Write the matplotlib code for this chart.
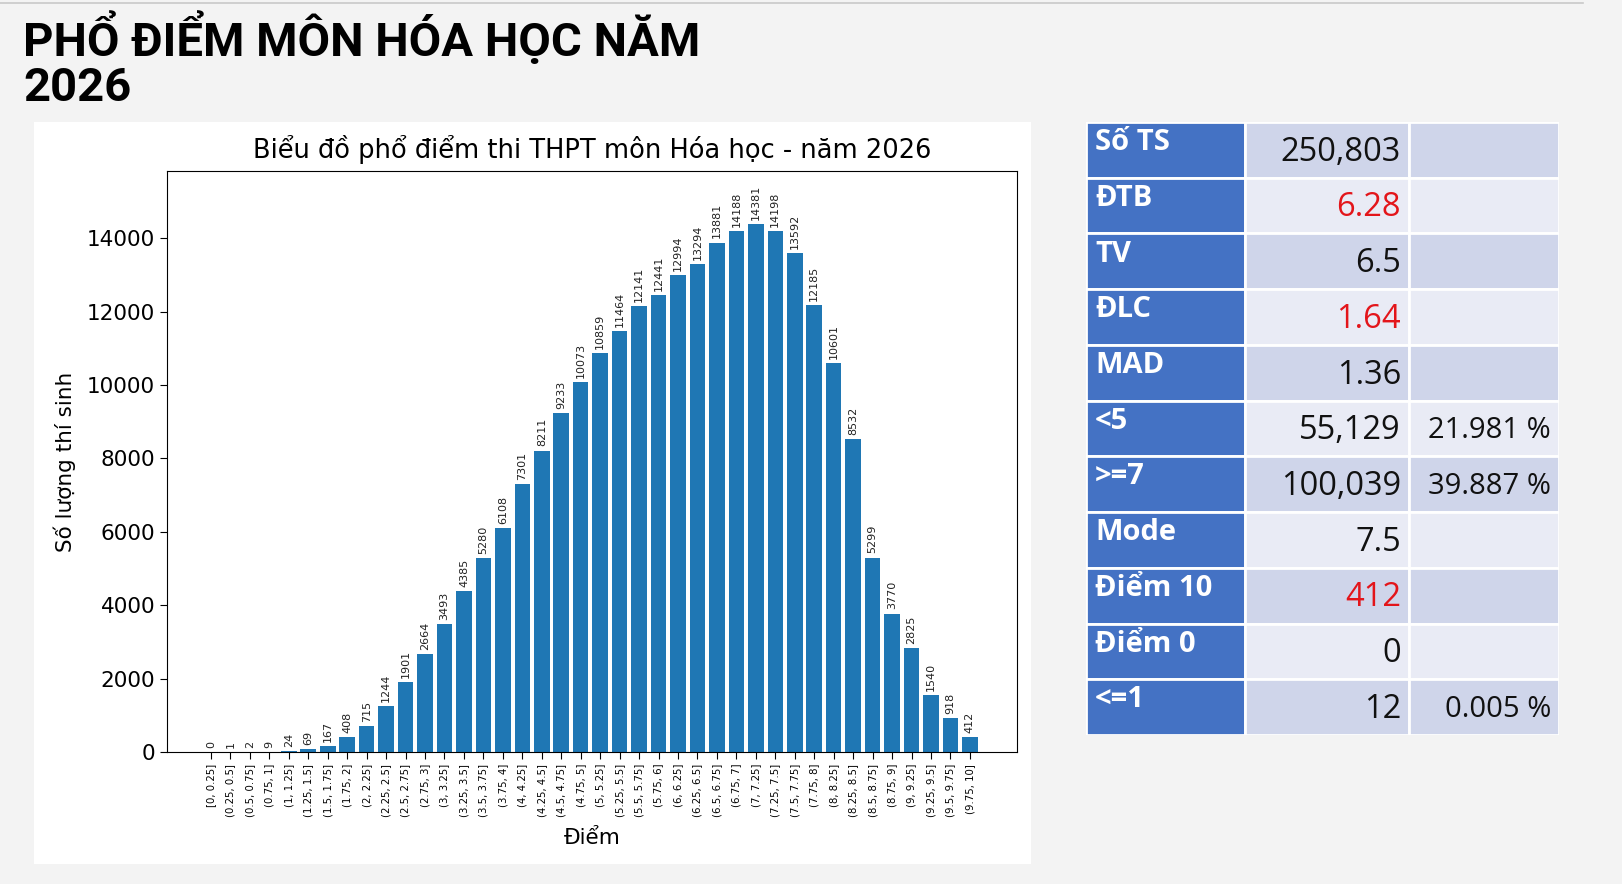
import matplotlib
matplotlib.use('Agg')
import matplotlib.pyplot as plt
import matplotlib.patches as patches
import numpy as np

# score bins and counts
bins = ['[0, 0.25]', '(0.25, 0.5]', '(0.5, 0.75]', '(0.75, 1]', '(1, 1.25]',
        '(1.25, 1.5]', '(1.5, 1.75]', '(1.75, 2]', '(2, 2.25]', '(2.25, 2.5]',
        '(2.5, 2.75]', '(2.75, 3]', '(3, 3.25]', '(3.25, 3.5]', '(3.5, 3.75]',
        '(3.75, 4]', '(4, 4.25]', '(4.25, 4.5]', '(4.5, 4.75]', '(4.75, 5]',
        '(5, 5.25]', '(5.25, 5.5]', '(5.5, 5.75]', '(5.75, 6]', '(6, 6.25]',
        '(6.25, 6.5]', '(6.5, 6.75]', '(6.75, 7]', '(7, 7.25]', '(7.25, 7.5]',
        '(7.5, 7.75]', '(7.75, 8]', '(8, 8.25]', '(8.25, 8.5]', '(8.5, 8.75]',
        '(8.75, 9]', '(9, 9.25]', '(9.25, 9.5]', '(9.5, 9.75]', '(9.75, 10]']
counts = [0, 1, 2, 9, 24, 69, 167, 408, 715, 1244,
          1901, 2664, 3493, 4385, 5280, 6108, 7301, 8211, 9233, 10073,
          10859, 11464, 12141, 12441, 12994, 13294, 13881, 14188, 14381, 14198,
          13592, 12185, 10601, 8532, 5299, 3770, 2825, 1540, 918, 412]

# stats table
stat_names = ['Số TS', 'ĐTB', 'TV', 'ĐLC', 'MAD', '<5', '>=7', 'Mode', 'Điểm 10', 'Điểm 0', '<=1']
stat_values = ['250,803', '6.28', '6.5', '1.64', '1.36', '55,129', '100,039', '7.5', '412', '0', '12']
stat_pcts = ['', '', '', '', '', '21.981 %', '39.887 %', '', '', '', '0.005 %']
red_rows = [1, 3, 8]

W, H = 1622, 884
fig = plt.figure(figsize=(W / 100, H / 100), dpi=100)
fig.patch.set_facecolor('#f3f3f3')

def fx(px):
    return px / W

def fy(py):
    return 1 - py / H

# thin line at the top
fig.add_artist(plt.Line2D([0, fx(1583)], [fy(3), fy(3)], color='#c8c8c8', lw=1.2))

# page title, two lines
title_font = ['Roboto', 'DejaVu Sans']
fig.text(fx(23), fy(38), 'PHỔ ĐIỂM MÔN HÓA HỌC NĂM', ha='left', va='center',
         fontsize=34, fontweight='bold', family=title_font)
fig.text(fx(23), fy(88), '2026', ha='left', va='center',
         fontsize=34, fontweight='bold', family=title_font)

# white panel behind chart
fig.add_artist(patches.Rectangle((fx(34), fy(864)), fx(1031) - fx(34), fy(122) - fy(864),
                                 transform=fig.transFigure, facecolor='white',
                                 edgecolor='none', zorder=-5))

ax = fig.add_axes([fx(167), fy(752), fx(1017) - fx(167), fy(171) - fy(752)])
ax.set_facecolor('white')
x = np.arange(len(counts))
ax.bar(x, counts, width=0.8, color='#1f77b4')
for xi, c in zip(x, counts):
    ax.annotate(str(c), (xi, c), xytext=(0, 3), textcoords='offset points',
                ha='center', va='bottom', rotation=90, fontsize=8, color='#222222')
ax.set_xticks(x)
ax.set_xticklabels(bins, rotation=90, fontsize=7.3)
ax.set_xlim(-2.26, 41.42)
ax.set_ylim(0, 15830)
ax.set_yticks(np.arange(0, 14001, 2000))
ax.tick_params(axis='y', labelsize=15.5, length=5)
ax.tick_params(axis='x', length=5)
ax.set_title('Biểu đồ phổ điểm thi THPT môn Hóa học - năm 2026', fontsize=18.5, pad=9)
ax.set_ylabel('Số lượng thí sinh', fontsize=15.5, labelpad=8)
ax.set_xlabel('Điểm', fontsize=15.5, labelpad=8)

# table
tab = fig.add_axes([fx(1086), fy(735), fx(1559) - fx(1086), fy(122) - fy(735)])
tab.set_xlim(1086, 1559)
tab.set_ylim(len(stat_names), 0)
tab.axis('off')
col_edges = [1086, 1245, 1409, 1559]
for i, (name, val, pct) in enumerate(zip(stat_names, stat_values, stat_pcts)):
    shade = '#cfd5ea' if i % 2 == 0 else '#e9ebf5'
    tab.add_patch(patches.Rectangle((col_edges[0], i), col_edges[1] - col_edges[0], 1,
                                    facecolor='#4472c4', edgecolor='white', lw=2))
    for c in (1, 2):
        tab.add_patch(patches.Rectangle((col_edges[c], i), col_edges[c + 1] - col_edges[c], 1,
                                        facecolor=shade, edgecolor='white', lw=2))
    tab.text(col_edges[0] + 9, i + 0.37, name, ha='left', va='center', fontsize=21,
             fontweight='bold', color='white', family='Open Sans')
    tab.text(col_edges[2] - 8, i + 0.54, val, ha='right', va='center', fontsize=23.5,
             color='#e3151a' if i in red_rows else '#111111', family='Open Sans')
    if pct:
        tab.text(col_edges[3] - 8, i + 0.54, pct, ha='right', va='center', fontsize=21,
                 color='#111111', family='Open Sans')

fig.savefig('out.png', dpi=100, facecolor=fig.get_facecolor())
